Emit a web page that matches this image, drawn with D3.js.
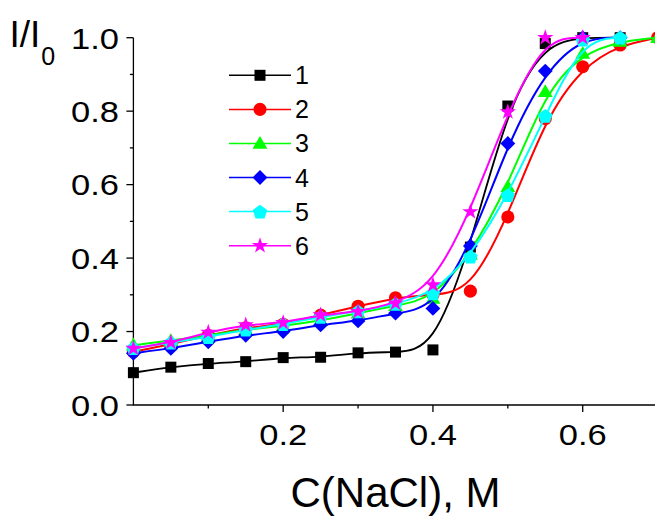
<!DOCTYPE html>
<html><head><meta charset="utf-8">
<script src="https://cdn.jsdelivr.net/npm/d3@7"></script>
<style>body{margin:0;background:#fff}svg{display:block}text{font-family:Arial,"Liberation Sans",sans-serif;fill:#000}</style>
</head><body><svg id="c" width="655" height="516"></svg>
<script>
const xVals = [0,0.05,0.1,0.15,0.2,0.25,0.3,0.35,0.4,0.45,0.5,0.55,0.6,0.65,0.7];
const s1 = [0.088,0.103,0.113,0.118,0.129,0.130,0.142,0.144,0.150,0.43,0.814,0.984,1.0,1.0,null];
const s2 = [0.145,0.165,0.19,0.21,0.22,0.245,0.269,0.292,0.30,0.31,0.512,0.78,0.921,0.98,1.0];
const s3 = [0.163,0.175,0.19,0.205,0.215,0.23,0.25,0.27,0.29,0.41,0.594,0.853,0.957,0.99,1.0];
const s4 = [0.141,0.154,0.172,0.19,0.2,0.218,0.229,0.25,0.263,0.433,0.712,0.909,1.0,1.0,null];
const s5 = [0.155,0.17,0.185,0.205,0.22,0.24,0.255,0.275,0.304,0.404,0.571,0.787,0.995,1.0,null];
const s6 = [0.154,0.17,0.198,0.218,0.224,0.245,0.254,0.277,0.327,0.526,0.798,1.0,1.0,null,null];
const seriesNames = ["1","2","3","4","5","6"];
const seriesColors = ["#000000","#ff0000","#00ff00","#0000ff","#00ffff","#ff00ff"];
const seriesSymbols = ["square","circle","triangle","diamond","pentagon","star"];
const xTicks = [0.2,0.4,0.6];
const xMinor = [0.1,0.3,0.5,0.7];
const yTicks = [0.0,0.2,0.4,0.6,0.8,1.0];
const yMinor = [0.1,0.3,0.5,0.7,0.9];
const seriesValues = [s1,s2,s3,s4,s5,s6];

const svg = d3.select("#c");
const x = d3.scaleLinear().domain([0,0.7]).range([133.4,657.6]);
const y = d3.scaleLinear().domain([0,1]).range([405,37.7]);

// axes
const ax = svg.append("g");
ax.append("line").attr("x1",x(0)).attr("x2",x(0)).attr("y1",y(0)).attr("y2",y(1)).attr("stroke","#000").attr("stroke-width",1.3);
ax.append("line").attr("x1",x(0)-0.6).attr("x2",x(0.7)+5).attr("y1",y(0)).attr("y2",y(0)).attr("stroke","#000").attr("stroke-width",1.3);
yTicks.forEach(v=>{
  ax.append("line").attr("x1",x(0)-7).attr("x2",x(0)).attr("y1",y(v)).attr("y2",y(v)).attr("stroke","#000").attr("stroke-width",1.3);
  ax.append("text").attr("transform",`translate(119,${y(v)+10.8}) scale(1.15,1)`).attr("text-anchor","end").attr("font-size",30).text(d3.format(".1f")(v));
});
yMinor.forEach(v=>{
  ax.append("line").attr("x1",x(0)-3.5).attr("x2",x(0)).attr("y1",y(v)).attr("y2",y(v)).attr("stroke","#000").attr("stroke-width",1.3);
});
xTicks.forEach(v=>{
  ax.append("line").attr("x1",x(v)).attr("x2",x(v)).attr("y1",y(0)).attr("y2",y(0)+7).attr("stroke","#000").attr("stroke-width",1.3);
  ax.append("text").attr("transform",`translate(${x(v)},445) scale(1.15,1)`).attr("text-anchor","middle").attr("font-size",30).text(d3.format(".1f")(v));
});
xMinor.forEach(v=>{
  ax.append("line").attr("x1",x(v)).attr("x2",x(v)).attr("y1",y(0)).attr("y2",y(0)+3.5).attr("stroke","#000").attr("stroke-width",1.3);
});
// titles
svg.append("text").attr("x",395.5).attr("y",506.5).attr("text-anchor","middle").attr("font-size",42).text("C(NaCl), M");
const yt = svg.append("text").attr("x",9.5).attr("y",46.7).attr("font-size",37);
yt.append("tspan").text("I/I");
yt.append("tspan").attr("font-size",25).attr("dy",18.3).attr("dx",1).text("0");

// symbols
function symPath(kind){
  if(kind==="square") return d3.symbol(d3.symbolSquare,121)();
  if(kind==="circle") return d3.symbol(d3.symbolCircle,135)();
  if(kind==="triangle") return d3.symbol(d3.symbolTriangle,95)();
  if(kind==="diamond") return d3.symbol(d3.symbolSquare,110)();
  if(kind==="star") return d3.symbol(d3.symbolStar,82)();
  if(kind==="pentagon"){
    const r=7.6, pts=[];
    for(let k=0;k<5;k++){const a=-Math.PI/2+k*2*Math.PI/5;pts.push([r*Math.cos(a),r*Math.sin(a)+0.7]);}
    return "M"+pts.map(p=>p.join(",")).join("L")+"Z";
  }
}
function symTransform(kind,px,py){
  if(kind==="diamond") return `translate(${px},${py}) rotate(45)`;
  if(kind==="triangle") return `translate(${px},${py+1})`;
  return `translate(${px},${py})`;
}

const line = d3.line().defined(d=>d[1]!=null).x(d=>x(d[0])).y(d=>y(d[1])).curve(d3.curveBasis);
seriesValues.forEach((vals,i)=>{
  const pts = xVals.map((xv,j)=>[xv,vals[j]]).filter(d=>d[1]!=null);
  const g = svg.append("g");
  g.append("path").attr("d",line(pts)).attr("fill","none").attr("stroke",seriesColors[i]).attr("stroke-width",i===0?1.8:2);
  g.selectAll("path.m").data(pts).enter().append("path").attr("class","m")
    .attr("d",symPath(seriesSymbols[i])).attr("transform",d=>symTransform(seriesSymbols[i],x(d[0]),y(d[1])))
    .attr("fill",seriesColors[i]);
});

// legend
const lg = svg.append("g");
seriesNames.forEach((n,i)=>{
  const ly = 75.3 + i*34.08;
  lg.append("line").attr("x1",229).attr("x2",291).attr("y1",ly).attr("y2",ly).attr("stroke",seriesColors[i]).attr("stroke-width",1.5);
  lg.append("path").attr("d",symPath(seriesSymbols[i])).attr("transform",symTransform(seriesSymbols[i],260,ly)).attr("fill",seriesColors[i]);
  lg.append("text").attr("x",295).attr("y",ly+9).attr("font-size",25).text(n);
});
</script></body></html>
